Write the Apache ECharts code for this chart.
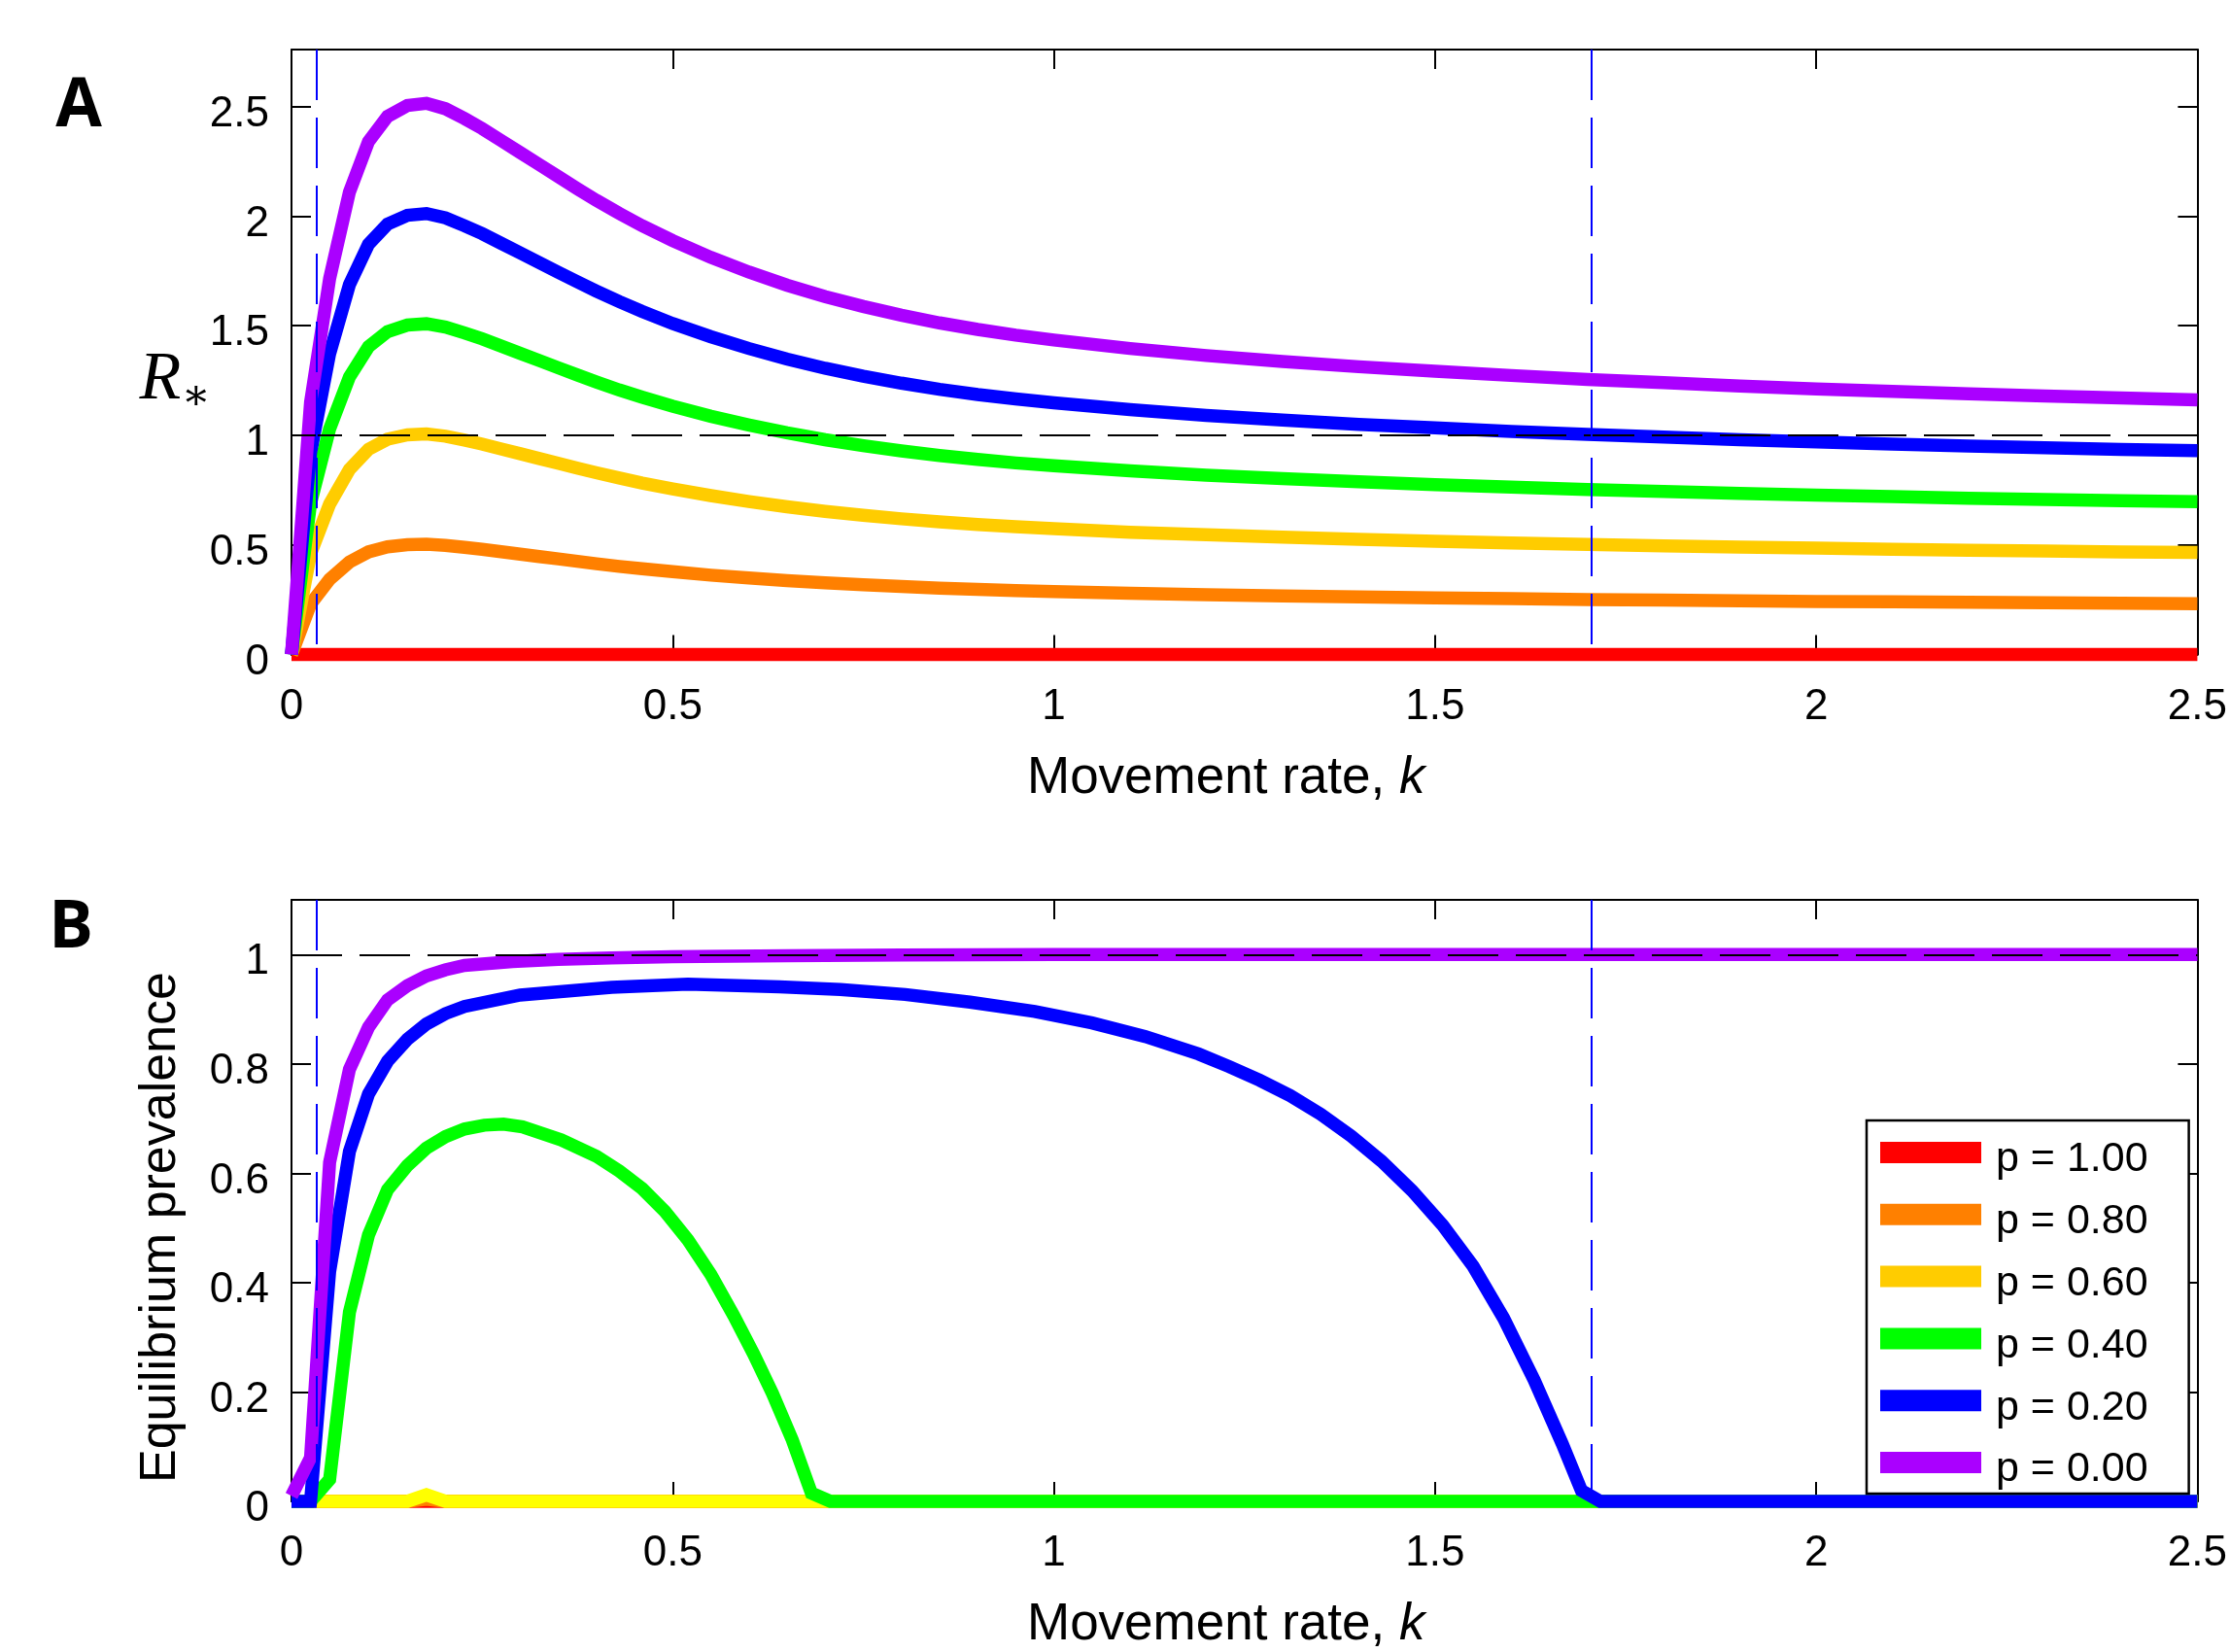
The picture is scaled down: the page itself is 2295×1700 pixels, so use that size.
<!DOCTYPE html>
<html>
<head>
<meta charset="utf-8">
<script src="https://cdn.jsdelivr.net/npm/echarts@6/dist/echarts.min.js"></script>
<style>
  html, body { margin: 0; padding: 0; background: #fff; }
  #chart { width: 2295px; height: 1700px; }
</style>
</head>
<body>
<div id="chart"></div>
<script>
// movement rate samples for panel A (shared by all curves)
const kA = [0, 0.025, 0.05, 0.076, 0.101, 0.126, 0.152, 0.177, 0.202, 0.227, 0.25, 0.275, 0.3, 0.325, 0.35, 0.375, 0.4,
  0.43, 0.46, 0.5, 0.55, 0.6, 0.65, 0.7, 0.75, 0.8, 0.85, 0.9, 0.95, 1.0, 1.1, 1.2, 1.3, 1.4, 1.5, 1.6, 1.7, 1.8, 1.9,
  2.0, 2.1, 2.2, 2.3, 2.4, 2.5];

// panel A: R* per p
const purpleA = [0, 1.15, 1.715, 2.11, 2.34, 2.455, 2.505, 2.515, 2.49, 2.445, 2.40, 2.345, 2.29, 2.235, 2.18, 2.125, 2.072,
  2.012, 1.956, 1.888, 1.812, 1.745, 1.685, 1.633, 1.588, 1.548, 1.513, 1.483, 1.457, 1.435, 1.396, 1.364, 1.337, 1.313, 1.292,
  1.273, 1.255, 1.24, 1.225, 1.212, 1.2, 1.189, 1.179, 1.17, 1.162];
const blueA = [0, 0.92, 1.372, 1.688, 1.872, 1.964, 2.004, 2.012, 1.992, 1.956, 1.92, 1.876, 1.832, 1.788, 1.744, 1.70, 1.658,
  1.61, 1.565, 1.51, 1.45, 1.396, 1.348, 1.306, 1.27, 1.238, 1.21, 1.186, 1.166, 1.148, 1.117, 1.091, 1.07, 1.05, 1.034,
  1.018, 1.004, 0.992, 0.98, 0.97, 0.96, 0.951, 0.943, 0.936, 0.93];
const greenA = [0, 0.69, 1.029, 1.266, 1.404, 1.473, 1.503, 1.509, 1.494, 1.467, 1.44, 1.407, 1.374, 1.341, 1.308, 1.275, 1.243,
  1.207, 1.174, 1.133, 1.087, 1.047, 1.011, 0.98, 0.953, 0.929, 0.908, 0.89, 0.874, 0.861, 0.838, 0.818, 0.802, 0.788, 0.775,
  0.764, 0.753, 0.744, 0.735, 0.727, 0.72, 0.713, 0.707, 0.702, 0.697];
const yellowA = [0, 0.46, 0.686, 0.844, 0.936, 0.982, 1.002, 1.006, 0.996, 0.978, 0.96, 0.938, 0.916, 0.894, 0.872, 0.85, 0.829,
  0.805, 0.782, 0.755, 0.725, 0.698, 0.674, 0.653, 0.635, 0.619, 0.605, 0.593, 0.583, 0.574, 0.558, 0.546, 0.535, 0.525, 0.517,
  0.509, 0.502, 0.496, 0.49, 0.485, 0.48, 0.476, 0.472, 0.468, 0.465];
const orangeA = [0, 0.23, 0.343, 0.422, 0.468, 0.491, 0.501, 0.503, 0.498, 0.489, 0.48, 0.469, 0.458, 0.447, 0.436, 0.425, 0.414,
  0.402, 0.391, 0.378, 0.362, 0.349, 0.337, 0.327, 0.318, 0.31, 0.303, 0.297, 0.291, 0.287, 0.279, 0.273, 0.267, 0.263, 0.258,
  0.255, 0.251, 0.248, 0.245, 0.242, 0.24, 0.238, 0.236, 0.234, 0.232];
const kRed = [0, 2.5];
const red = [0, 0];

// panel B: equilibrium prevalence per p
const kPurpleB = [0, 0.025, 0.05, 0.076, 0.101, 0.126, 0.152, 0.177, 0.202, 0.227, 0.29, 0.35, 0.42, 0.5, 0.65, 0.8, 1.0, 1.5, 2.0, 2.5];
const purpleB = [0.01, 0.08, 0.62, 0.79, 0.867, 0.917, 0.943, 0.961, 0.972, 0.98, 0.987, 0.991, 0.994, 0.996, 0.998, 0.999, 1.0, 1.0, 1.0, 1.0];
const kBlueB = [0, 0.025, 0.05, 0.076, 0.101, 0.126, 0.152, 0.177, 0.202, 0.227, 0.3, 0.42, 0.52, 0.64, 0.72, 0.805, 0.89,
  0.975, 1.05, 1.12, 1.19, 1.23, 1.27, 1.31, 1.35, 1.39, 1.43, 1.47, 1.51, 1.55, 1.59, 1.63, 1.667, 1.692, 1.717, 2.0, 2.5];
const blueB = [0, 0, 0.42, 0.64, 0.745, 0.805, 0.845, 0.873, 0.892, 0.905, 0.926, 0.94, 0.946, 0.941, 0.936, 0.927, 0.913,
  0.896, 0.875, 0.85, 0.818, 0.795, 0.77, 0.742, 0.708, 0.668, 0.622, 0.568, 0.505, 0.43, 0.335, 0.222, 0.105, 0.02, 0, 0, 0];
const kGreenB = [0, 0.025, 0.05, 0.076, 0.101, 0.126, 0.152, 0.177, 0.202, 0.227, 0.253, 0.278, 0.303, 0.354, 0.40, 0.43,
  0.46, 0.49, 0.52, 0.55, 0.58, 0.606, 0.631, 0.657, 0.682, 0.707, 1.0, 1.5, 2.0, 2.5];
const greenB = [0, 0, 0.04, 0.346, 0.487, 0.57, 0.614, 0.646, 0.667, 0.681, 0.688, 0.69, 0.685, 0.661, 0.631, 0.604,
  0.572, 0.53, 0.478, 0.415, 0.34, 0.27, 0.197, 0.112, 0.015, 0, 0, 0, 0, 0];
const kLowB = [0, 0.152, 0.177, 0.202, 2.5];
const yellowB = [0, 0, 0.012, 0, 0];
const orangeB = [0, 0, 0.004, 0, 0];

// thresholds where R* of p = 0.20 crosses 1
const kThresholds = [0.033, 1.705];

const names = ['p = 1.00', 'p = 0.80', 'p = 0.60', 'p = 0.40', 'p = 0.20', 'p = 0.00'];
const colors = ['#ff0000', '#ff8000', '#ffcc00', '#00ff00', '#0000ff', '#aa00ff'];

const FONT = 'Liberation Sans';
const yMaxA = 2.76, yMaxB = 1.1;

const pairs = (ks, vs) => ks.map((k, i) => [k, vs[i]]);

function curve(i, gi, data, color) {
  return {
    type: 'line', name: names[i], xAxisIndex: gi * 2, yAxisIndex: gi * 2,
    data: data, showSymbol: false, symbol: 'none', clip: false, animation: false,
    lineStyle: { color: color || colors[i], width: 13.5, join: 'miter' },
    itemStyle: { color: color || colors[i] }
  };
}

function guides(yMax) {
  return {
    silent: true, symbol: 'none', label: { show: false }, animation: false,
    data: [
      [{ coord: [0, 1], lineStyle: { color: '#000', width: 2, type: [52, 18] } }, { coord: [2.5, 1] }],
      [{ coord: [kThresholds[0], yMax], lineStyle: { color: '#0000ff', width: 2, type: [52, 18] } }, { coord: [kThresholds[0], 0] }],
      [{ coord: [kThresholds[1], yMax], lineStyle: { color: '#0000ff', width: 2, type: [52, 18] } }, { coord: [kThresholds[1], 0] }]
    ]
  };
}

const axisLine = { show: true, onZero: false, lineStyle: { color: '#000', width: 2 } };
const axisTick = { inside: true, length: 20, lineStyle: { color: '#000', width: 2 } };

function xAxes(gi) {
  return [{
    type: 'value', gridIndex: gi, position: 'bottom', min: 0, max: 2.5, interval: 0.5,
    axisLine, axisTick, splitLine: { show: false },
    axisLabel: { fontSize: 44, fontFamily: FONT, color: '#000', margin: 32 },
    name: 'Movement rate, {i|k}', nameLocation: 'middle', nameGap: 101,
    nameTextStyle: {
      fontSize: 53, fontFamily: FONT, color: '#000', padding: [0, 38, 0, 0],
      rich: { i: { fontSize: 53, fontFamily: FONT, fontStyle: 'italic', color: '#000' } }
    }
  }, {
    type: 'value', gridIndex: gi, position: 'top', min: 0, max: 2.5, interval: 0.5,
    axisLine, axisTick, splitLine: { show: false }, axisLabel: { show: false }
  }];
}

function yAxes(gi, yMax, step) {
  return [{
    type: 'value', gridIndex: gi, position: 'left', min: 0, max: yMax, interval: step,
    axisLine, axisTick, splitLine: { show: false },
    axisLabel: {
      margin: 23, showMaxLabel: false, formatter: '{v|{value}}',
      rich: { v: { fontSize: 44, fontFamily: FONT, color: '#000', lineHeight: 44, padding: [16, 0, 0, 0] } }
    }
  }, {
    type: 'value', gridIndex: gi, position: 'right', min: 0, max: yMax, interval: step,
    axisLine, axisTick, splitLine: { show: false }, axisLabel: { show: false }
  }];
}

const seriesA = [
  curve(0, 0, pairs(kRed, red)),
  curve(1, 0, pairs(kA, orangeA)),
  curve(2, 0, pairs(kA, yellowA)),
  curve(3, 0, pairs(kA, greenA)),
  curve(4, 0, pairs(kA, blueA)),
  Object.assign(curve(5, 0, pairs(kA, purpleA)), { markLine: guides(yMaxA) })
];
const seriesB = [
  curve(0, 1, pairs(kRed, red)),
  curve(1, 1, pairs(kLowB, orangeB)),
  curve(2, 1, pairs(kLowB, yellowB), '#ffff00'),
  curve(3, 1, pairs(kGreenB, greenB)),
  curve(4, 1, pairs(kBlueB, blueB)),
  Object.assign(curve(5, 1, pairs(kPurpleB, purpleB)), { markLine: guides(yMaxB) })
];

const chart = echarts.init(document.getElementById('chart'), null, { renderer: 'canvas' });
chart.setOption({
  backgroundColor: '#fff',
  animation: false,
  grid: [
    { left: 300, top: 51, width: 1966, height: 622.5 },
    { left: 300, top: 926, width: 1966, height: 623 }
  ],
  xAxis: [...xAxes(0), ...xAxes(1)],
  yAxis: [...yAxes(0, yMaxA, 0.5), ...yAxes(1, yMaxB, 0.2)],
  legend: {
    orient: 'vertical', left: 1921, top: 1153,
    icon: 'rect', itemWidth: 104, itemHeight: 22, itemGap: 5.8,
    padding: [4, 42, 3, 14],
    backgroundColor: '#fff', borderColor: '#000', borderWidth: 2.5, borderRadius: 0,
    selectedMode: false,
    itemStyle: { borderWidth: 0 },
    formatter: '{t|{name}}',
    textStyle: {
      fontSize: 43, fontFamily: FONT, color: '#000',
      rich: { t: { fontSize: 43, fontFamily: FONT, color: '#000', lineHeight: 43, padding: [15, 0, 0, 10] } }
    },
    data: names.map((n, i) => ({ name: n, itemStyle: { color: colors[i], borderWidth: 0 } }))
  },
  graphic: [
    { type: 'text', x: 81, y: 110, style: { text: 'A', fontSize: 69, fontWeight: 'bold', fontFamily: 'Open Sans', fill: '#000', align: 'center', verticalAlign: 'middle' } },
    { type: 'text', x: 73, y: 956, style: { text: 'B', fontSize: 68, fontWeight: 'bold', fontFamily: 'Open Sans', fill: '#000', align: 'center', verticalAlign: 'middle' } },
    { type: 'text', x: 165, y: 392, style: { text: 'R', fontSize: 70, fontStyle: 'italic', fontFamily: 'Liberation Serif', fill: '#000', align: 'center', verticalAlign: 'middle' } },
    { type: 'text', x: 202, y: 410, style: { text: '\u2217', fontSize: 44, fontFamily: 'DejaVu Serif', fill: '#000', align: 'center', verticalAlign: 'middle' } },
    { type: 'text', x: 166, y: 1263, rotation: Math.PI / 2, style: { text: 'Equilibrium prevalence', fontSize: 52, fontFamily: FONT, fill: '#000', align: 'center', verticalAlign: 'middle' } }
  ],
  series: [...seriesA, ...seriesB]
});
</script>
</body>
</html>
